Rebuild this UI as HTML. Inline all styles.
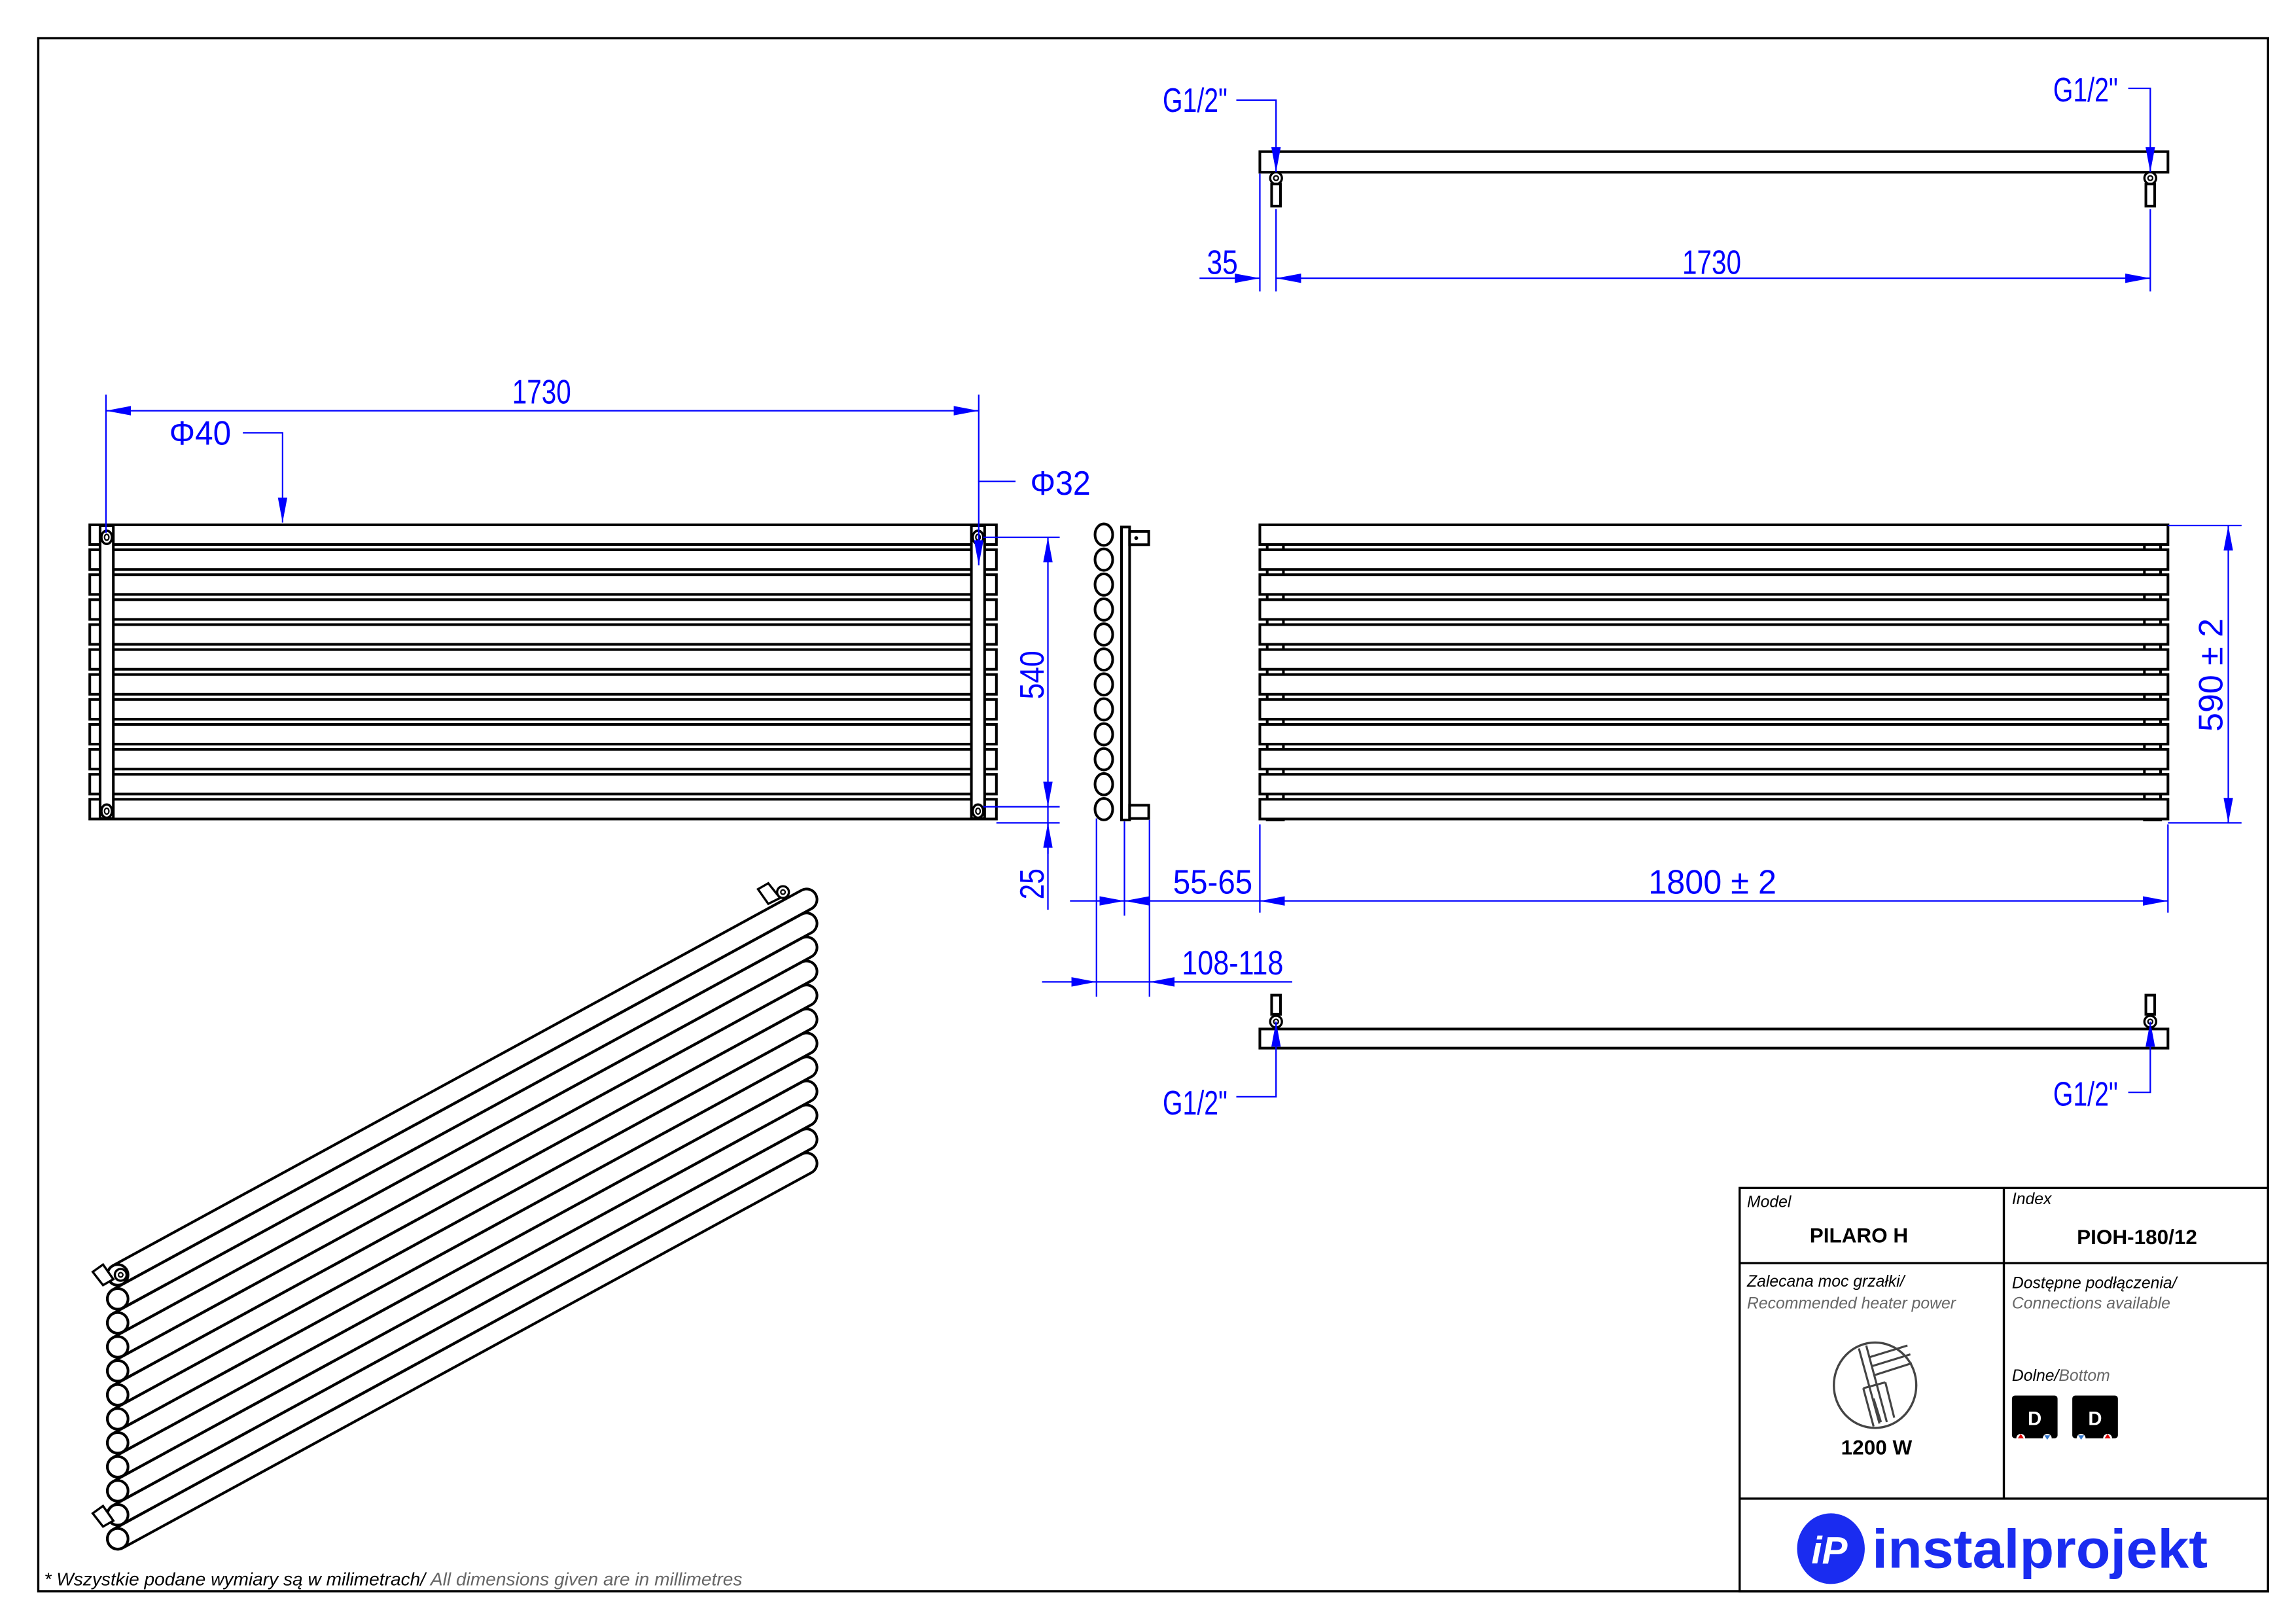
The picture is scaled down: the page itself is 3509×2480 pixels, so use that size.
<!DOCTYPE html>
<html><head><meta charset="utf-8"><style>
html,body{margin:0;padding:0;background:#fff}
svg{display:block}
.d{fill:#0000ff;font-family:"Liberation Sans Narrow","Liberation Sans",sans-serif;font-size:23px}
.bl{stroke:#0000ff;stroke-width:1;fill:none}
.k{stroke:#000;stroke-width:1.8;fill:#fff}
.t{font-family:"Liberation Sans",sans-serif}
</style></head><body>
<svg width="3509" height="2480" viewBox="0 0 1560 1102.5" preserveAspectRatio="none" xmlns="http://www.w3.org/2000/svg">
<defs>
<marker id="a" markerWidth="18" markerHeight="8" refX="17" refY="4" orient="auto-start-reverse" markerUnits="userSpaceOnUse"><path d="M0,0.8 L17,4 L0,7.2z" fill="#0000ff"/></marker>
<g id="tube"><line x1="0" y1="0" x2="468" y2="-255" stroke="#000" stroke-width="16" stroke-linecap="round"/><line x1="0" y1="0" x2="468" y2="-255" stroke="#fff" stroke-width="12.4" stroke-linecap="round"/><circle cx="0" cy="0" r="7" fill="#fff" stroke="#000" stroke-width="1.8"/></g>
<g id="sc"><ellipse cx="750" cy="0" rx="6" ry="7.3" fill="#fff" stroke="#000" stroke-width="1.8"/></g>
</defs>
<rect x="0" y="0" width="1560" height="1102.5" fill="#fff"/>
<rect x="26" y="26" width="1515" height="1055" fill="none" stroke="#000" stroke-width="1.5"/>

<g>
<rect class="k" x="61" y="356.5" width="616" height="13.4"/>
<rect class="k" x="61" y="373.45" width="616" height="13.4"/>
<rect class="k" x="61" y="390.4" width="616" height="13.4"/>
<rect class="k" x="61" y="407.35" width="616" height="13.4"/>
<rect class="k" x="61" y="424.3" width="616" height="13.4"/>
<rect class="k" x="61" y="441.25" width="616" height="13.4"/>
<rect class="k" x="61" y="458.2" width="616" height="13.4"/>
<rect class="k" x="61" y="475.15" width="616" height="13.4"/>
<rect class="k" x="61" y="492.1" width="616" height="13.4"/>
<rect class="k" x="61" y="509.05" width="616" height="13.4"/>
<rect class="k" x="61" y="526" width="616" height="13.4"/>
<rect class="k" x="61" y="542.95" width="616" height="13.4"/>
<rect class="k" x="68" y="357" width="9" height="199"/>
<rect class="k" x="660" y="357" width="9" height="199"/>
<ellipse cx="72.5" cy="365" rx="3.6" ry="4.5" fill="#fff" stroke="#000" stroke-width="1.6"/><ellipse cx="72.5" cy="365" rx="1.5" ry="2" fill="none" stroke="#000"/>
<ellipse cx="72.5" cy="551" rx="3.6" ry="4.5" fill="#fff" stroke="#000" stroke-width="1.6"/><ellipse cx="72.5" cy="551" rx="1.5" ry="2" fill="none" stroke="#000"/>
<ellipse cx="664.5" cy="365" rx="3.6" ry="4.5" fill="#fff" stroke="#000" stroke-width="1.6"/><ellipse cx="664.5" cy="365" rx="1.5" ry="2" fill="none" stroke="#000"/>
<ellipse cx="664.5" cy="551" rx="3.6" ry="4.5" fill="#fff" stroke="#000" stroke-width="1.6"/><ellipse cx="664.5" cy="551" rx="1.5" ry="2" fill="none" stroke="#000"/>
</g>
<line class="bl" x1="72" y1="268" x2="72" y2="362"/>
<line class="bl" x1="665" y1="268" x2="665" y2="327"/>
<line class="bl" x1="72" y1="279" x2="665" y2="279" marker-start="url(#a)" marker-end="url(#a)"/>
<text class="d" x="348" y="274" textLength="40" lengthAdjust="spacingAndGlyphs">1730</text>
<text class="d" x="115" y="302" textLength="42" lengthAdjust="spacingAndGlyphs">Φ40</text>
<polyline class="bl" points="165,294 192,294 192,355" marker-end="url(#a)"/>
<text class="d" x="700" y="336" textLength="41" lengthAdjust="spacingAndGlyphs">Φ32</text>
<polyline class="bl" points="690,327 665,327 665,384" marker-end="url(#a)"/>
<line class="bl" x1="668" y1="365" x2="720" y2="365"/>
<line class="bl" x1="668" y1="548" x2="720" y2="548"/>
<line class="bl" x1="677" y1="559" x2="720" y2="559"/>
<line class="bl" x1="712" y1="365" x2="712" y2="548" marker-start="url(#a)" marker-end="url(#a)"/>
<line class="bl" x1="712" y1="548" x2="712" y2="618"/>
<line class="bl" x1="712" y1="580" x2="712" y2="559" marker-end="url(#a)"/>
<text class="d" transform="translate(709,475) rotate(-90)" textLength="33" lengthAdjust="spacingAndGlyphs">540</text>
<text class="d" transform="translate(709,611) rotate(-90)" textLength="21" lengthAdjust="spacingAndGlyphs">25</text>

<use href="#sc" y="363.2"/><use href="#sc" y="380.15"/><use href="#sc" y="397.1"/><use href="#sc" y="414.05"/>
<use href="#sc" y="431"/><use href="#sc" y="447.95"/><use href="#sc" y="464.9"/><use href="#sc" y="481.85"/>
<use href="#sc" y="498.8"/><use href="#sc" y="515.75"/><use href="#sc" y="532.7"/><use href="#sc" y="549.65"/>
<rect class="k" x="762" y="358" width="5.5" height="199"/>
<rect class="k" x="767.5" y="361" width="13" height="9"/><circle cx="772" cy="365.5" r="1.3"/>
<rect class="k" x="767.5" y="547" width="13" height="9"/>
<line class="bl" x1="745" y1="556" x2="745" y2="677"/>
<line class="bl" x1="764" y1="558" x2="764" y2="622"/>
<line class="bl" x1="781" y1="557" x2="781" y2="677"/>
<line class="bl" x1="727" y1="612" x2="764" y2="612" marker-end="url(#a)"/>
<line class="bl" x1="764" y1="612" x2="856" y2="612" marker-start="url(#a)"/>
<text class="d" x="797" y="607" textLength="54" lengthAdjust="spacingAndGlyphs">55-65</text>
<line class="bl" x1="708" y1="667" x2="745" y2="667" marker-end="url(#a)"/>
<line class="bl" x1="878" y1="667" x2="781" y2="667" marker-end="url(#a)"/>
<line class="bl" x1="745" y1="667" x2="781" y2="667"/>
<text class="d" x="803" y="662" textLength="69" lengthAdjust="spacingAndGlyphs">108-118</text>

<rect class="k" x="861" y="358" width="11" height="199"/>
<rect class="k" x="1457" y="358" width="11" height="199"/>
<g>
<rect class="k" x="856" y="356.5" width="617" height="13.4"/>
<rect class="k" x="856" y="373.45" width="617" height="13.4"/>
<rect class="k" x="856" y="390.4" width="617" height="13.4"/>
<rect class="k" x="856" y="407.35" width="617" height="13.4"/>
<rect class="k" x="856" y="424.3" width="617" height="13.4"/>
<rect class="k" x="856" y="441.25" width="617" height="13.4"/>
<rect class="k" x="856" y="458.2" width="617" height="13.4"/>
<rect class="k" x="856" y="475.15" width="617" height="13.4"/>
<rect class="k" x="856" y="492.1" width="617" height="13.4"/>
<rect class="k" x="856" y="509.05" width="617" height="13.4"/>
<rect class="k" x="856" y="526" width="617" height="13.4"/>
<rect class="k" x="856" y="542.95" width="617" height="13.4"/>
</g>
<line class="bl" x1="1473" y1="357" x2="1523" y2="357"/>
<line class="bl" x1="1473" y1="559" x2="1523" y2="559"/>
<line class="bl" x1="1514" y1="357" x2="1514" y2="559" marker-start="url(#a)" marker-end="url(#a)"/>
<text class="d" transform="translate(1510,497) rotate(-90)" textLength="77" lengthAdjust="spacingAndGlyphs">590  ± 2</text>
<line class="bl" x1="856" y1="560" x2="856" y2="620"/>
<line class="bl" x1="1473" y1="560" x2="1473" y2="620"/>
<line class="bl" x1="856" y1="612" x2="1473" y2="612" marker-start="url(#a)" marker-end="url(#a)"/>
<text class="d" x="1120" y="607" textLength="87" lengthAdjust="spacingAndGlyphs">1800  ± 2</text>

<rect class="k" x="856" y="103" width="617" height="14"/>
<circle cx="867" cy="121" r="4" fill="#fff" stroke="#000" stroke-width="1.5"/><circle cx="867" cy="121" r="1.6" fill="none" stroke="#000"/>
<rect class="k" x="864" y="125" width="6" height="15" stroke-width="1.4"/>
<circle cx="1461" cy="121" r="4" fill="#fff" stroke="#000" stroke-width="1.5"/><circle cx="1461" cy="121" r="1.6" fill="none" stroke="#000"/>
<rect class="k" x="1458" y="125" width="6" height="15" stroke-width="1.4"/>
<text class="d" x="790" y="76" textLength="44" lengthAdjust="spacingAndGlyphs">G1/2"</text>
<polyline class="bl" points="840,68 867,68 867,117" marker-end="url(#a)"/>
<text class="d" x="1395" y="69" textLength="44" lengthAdjust="spacingAndGlyphs">G1/2"</text>
<polyline class="bl" points="1446,60 1461,60 1461,117" marker-end="url(#a)"/>
<line class="bl" x1="856" y1="118" x2="856" y2="198"/>
<line class="bl" x1="867" y1="142" x2="867" y2="198"/>
<line class="bl" x1="1461" y1="142" x2="1461" y2="198"/>
<line class="bl" x1="815" y1="189" x2="856" y2="189" marker-end="url(#a)"/>
<line class="bl" x1="867" y1="189" x2="1461" y2="189" marker-start="url(#a)" marker-end="url(#a)"/>
<text class="d" x="820" y="186" textLength="21" lengthAdjust="spacingAndGlyphs">35</text>
<text class="d" x="1143" y="186" textLength="40" lengthAdjust="spacingAndGlyphs">1730</text>

<rect class="k" x="856" y="699" width="617" height="13"/>
<circle cx="867" cy="694" r="4" fill="#fff" stroke="#000" stroke-width="1.5"/><circle cx="867" cy="694" r="1.6" fill="none" stroke="#000"/>
<rect class="k" x="864" y="676" width="6" height="13" stroke-width="1.4"/>
<circle cx="1461" cy="694" r="4" fill="#fff" stroke="#000" stroke-width="1.5"/><circle cx="1461" cy="694" r="1.6" fill="none" stroke="#000"/>
<rect class="k" x="1458" y="676" width="6" height="13" stroke-width="1.4"/>
<text class="d" x="790" y="757" textLength="44" lengthAdjust="spacingAndGlyphs">G1/2"</text>
<polyline class="bl" points="840,745 867,745 867,694" marker-end="url(#a)"/>
<text class="d" x="1395" y="751" textLength="44" lengthAdjust="spacingAndGlyphs">G1/2"</text>
<polyline class="bl" points="1446,742 1461,742 1461,694" marker-end="url(#a)"/>

<g>
<use href="#tube" x="80" y="866"/>
<use href="#tube" x="80" y="882.3"/>
<use href="#tube" x="80" y="898.6"/>
<use href="#tube" x="80" y="914.9"/>
<use href="#tube" x="80" y="931.2"/>
<use href="#tube" x="80" y="947.5"/>
<use href="#tube" x="80" y="963.8"/>
<use href="#tube" x="80" y="980.1"/>
<use href="#tube" x="80" y="996.4"/>
<use href="#tube" x="80" y="1012.7"/>
<use href="#tube" x="80" y="1029"/>
<use href="#tube" x="80" y="1045.3"/>
</g>
<path d="M515,604 L522,600 L530,610 L522,614z" fill="#fff" stroke="#000" stroke-width="1.5"/>
<circle cx="532" cy="606" r="4" fill="#fff" stroke="#000" stroke-width="1.5"/><circle cx="532" cy="606" r="1.5" fill="none" stroke="#000"/>
<path d="M63,864 L70,859 L77,869 L70,873z" fill="#fff" stroke="#000" stroke-width="1.5"/>
<circle cx="82" cy="866" r="4" fill="#fff" stroke="#000" stroke-width="1.5"/><circle cx="82" cy="866" r="1.5" fill="none" stroke="#000"/>
<path d="M63,1028 L70,1023 L77,1033 L70,1037z" fill="#fff" stroke="#000" stroke-width="1.5"/>

<rect x="1182" y="807" width="359" height="274" fill="none" stroke="#000" stroke-width="1.5"/>
<line x1="1361.5" y1="807" x2="1361.5" y2="1018" stroke="#000" stroke-width="1.5"/>
<line x1="1182" y1="858" x2="1541" y2="858" stroke="#000" stroke-width="1.5"/>
<line x1="1182" y1="1018" x2="1541" y2="1018" stroke="#000" stroke-width="1.5"/>
<text class="t" x="1187" y="820" font-size="11" font-style="italic">Model</text>
<text class="t" x="1367" y="818" font-size="11" font-style="italic">Index</text>
<text class="t" x="1263" y="844" font-size="14" font-weight="bold" text-anchor="middle">PILARO H</text>
<text class="t" x="1452" y="845" font-size="14" font-weight="bold" text-anchor="middle">PIOH-180/12</text>
<text class="t" x="1187" y="874" font-size="11" font-style="italic">Zalecana moc grzałki/</text>
<text class="t" x="1187" y="889" font-size="11" font-style="italic" fill="#666">Recommended heater power</text>
<text class="t" x="1367" y="875" font-size="11" font-style="italic">Dostępne podłączenia/</text>
<text class="t" x="1367" y="889" font-size="11" font-style="italic" fill="#666">Connections available</text>
<text class="t" x="1367" y="938" font-size="11" font-style="italic">Dolne/<tspan fill="#666">Bottom</tspan></text>
<ellipse cx="1274" cy="941" rx="28" ry="29" fill="none" stroke="#444" stroke-width="1.5"/>
<path d="M1263,916 L1277,967 M1268,914 L1282,966 M1270,922 L1296,914 M1272,928 L1298,920 M1274,934 L1299,926 M1266,943 L1281,939 M1266,943 L1273,969 M1281,939 L1287,963 M1273,950 L1278,966" stroke="#444" stroke-width="1.4" fill="none"/>
<text class="t" x="1275" y="988" font-size="14" font-weight="bold" text-anchor="middle">1200 W</text>
<rect x="1367" y="948" width="31" height="29" rx="2" fill="#000"/>
<rect x="1408" y="948" width="31" height="29" rx="2" fill="#000"/>
<text class="t" x="1382.5" y="968" font-size="13" font-weight="bold" fill="#fff" text-anchor="middle">D</text>
<text class="t" x="1423.5" y="968" font-size="13" font-weight="bold" fill="#fff" text-anchor="middle">D</text>
<circle cx="1373" cy="977" r="3" fill="#fff"/><circle cx="1391" cy="977" r="3" fill="#fff"/>
<circle cx="1414" cy="977" r="3" fill="#fff"/><circle cx="1432" cy="977" r="3" fill="#fff"/>
<path d="M1371,977 L1373,974 L1375,977z" fill="#d00"/><path d="M1389,975 L1393,975 L1391,978z" fill="#37c"/>
<path d="M1412,975 L1416,975 L1414,978z" fill="#37c"/><path d="M1430,977 L1432,974 L1434,977z" fill="#d00"/>
<ellipse cx="1244" cy="1052" rx="23" ry="24" fill="#1a2cf0"/>
<text class="t" x="1243" y="1062" font-size="26" font-weight="bold" font-style="italic" fill="#fff" text-anchor="middle">iP</text>
<text class="t" x="1272" y="1065" font-size="37" font-weight="bold" fill="#1a2cf0" textLength="228" lengthAdjust="spacingAndGlyphs">instalprojekt</text>

<text class="t" x="30" y="1077" font-size="12.5" font-style="italic">* Wszystkie podane wymiary są w milimetrach/ <tspan fill="#666">All dimensions given are in millimetres</tspan></text>
</svg>
</body></html>
